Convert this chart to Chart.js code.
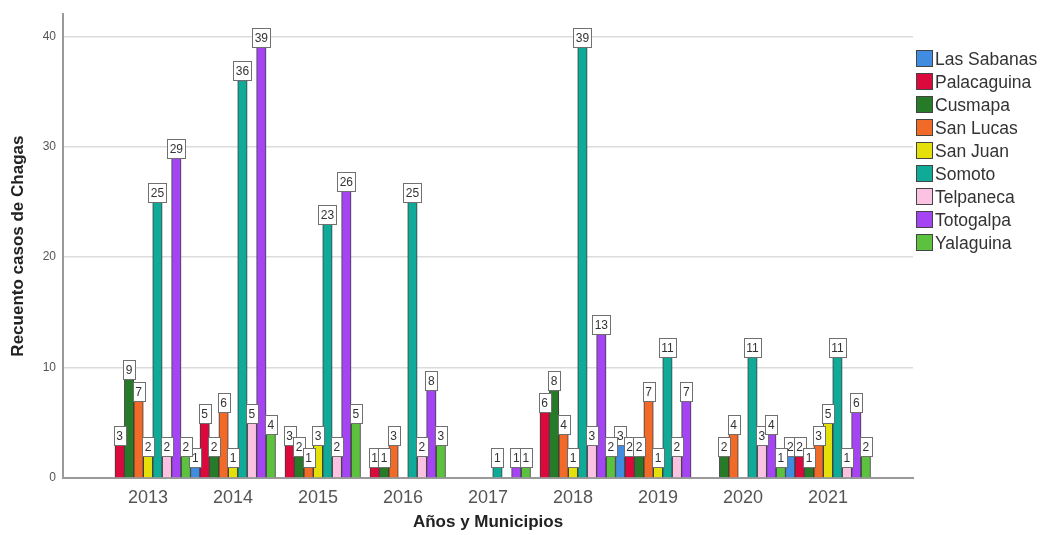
<!DOCTYPE html>
<html>
<head>
<meta charset="utf-8">
<script src="https://cdn.jsdelivr.net/npm/chart.js@4/dist/chart.umd.min.js"></script>
<style>
  html, body { margin: 0; padding: 0; background: #ffffff; }
  #wrap { width: 1045px; height: 535px; position: relative; }
</style>
</head>
<body>
<div id="wrap"><canvas id="chart" width="1045" height="535"></canvas></div>
<script>
// Años del estudio
const years = ['2013', '2014', '2015', '2016', '2017', '2018', '2019', '2020', '2021'];

// Casos de Chagas por municipio y año (null = sin casos registrados)
const lasSabanas  = [null, 1, null, null, null, null, 3, null, 2];
const palacaguina = [3, 5, 3, 1, null, 6, 2, null, 2];
const cusmapa     = [9, 2, 2, 1, null, 8, 2, 2, 1];
const sanLucas    = [7, 6, 1, 3, null, 4, 7, 4, 3];
const sanJuan     = [2, 1, 3, null, null, 1, 1, null, 5];
const somoto      = [25, 36, 23, 25, 1, 39, 11, 11, 11];
const telpaneca   = [2, 5, 2, 2, null, 3, 2, 3, 1];
const totogalpa   = [29, 39, 26, 8, 1, 13, 7, 4, 6];
const yalaguina   = [2, 4, 5, 3, 1, 2, null, 1, 2];

// Marcas del eje Y
const yTicks = [0, 10, 20, 30, 40];

const series = [
  { label: 'Las Sabanas', values: lasSabanas,  color: '#3f8ce0' },
  { label: 'Palacaguina', values: palacaguina, color: '#dc0a3c' },
  { label: 'Cusmapa',     values: cusmapa,     color: '#267a28' },
  { label: 'San Lucas',   values: sanLucas,    color: '#f26a28' },
  { label: 'San Juan',    values: sanJuan,     color: '#e6e00a' },
  { label: 'Somoto',      values: somoto,      color: '#10aa98' },
  { label: 'Telpaneca',   values: telpaneca,   color: '#fcc2e2' },
  { label: 'Totogalpa',   values: totogalpa,   color: '#a444f2' },
  { label: 'Yalaguina',   values: yalaguina,   color: '#5cc13e' }
];

// Un espacio vacío a cada lado del eje para separar los grupos de los bordes
const labels = [''].concat(years, ['']);

const datasets = series.map(s => ({
  label: s.label,
  data: [null].concat(s.values, [null]),
  backgroundColor: s.color,
  borderColor: '#3c3c3c',
  borderWidth: 1,
  borderSkipped: 'bottom',
  categoryPercentage: 1.0,
  barPercentage: 1.0
}));

// Etiquetas de valor en recuadros blancos sobre cada barra
const valueBoxes = {
  id: 'valueBoxes',
  afterDatasetsDraw(chart) {
    const ctx = chart.ctx;
    ctx.save();
    ctx.font = '12px "Liberation Sans", Arial, sans-serif';
    ctx.textAlign = 'center';
    ctx.textBaseline = 'middle';
    chart.data.datasets.forEach((ds, di) => {
      const meta = chart.getDatasetMeta(di);
      meta.data.forEach((el, i) => {
        const v = ds.data[i];
        if (v === null || v === undefined) return;
        const txt = String(v);
        const w = Math.round(ctx.measureText(txt).width + 5);
        const h = 19;
        const x = Math.round(el.x - w / 2) + 0.5;
        const y = Math.round(el.y - h) + 0.5;
        ctx.fillStyle = '#ffffff';
        ctx.fillRect(x, y, w, h);
        ctx.strokeStyle = '#707070';
        ctx.lineWidth = 1;
        ctx.strokeRect(x, y, w, h);
        ctx.fillStyle = '#333333';
        ctx.fillText(txt, el.x, y + h / 2 + 0.5);
      });
    });
    ctx.restore();
  }
};

// Leyenda vertical a la derecha del gráfico
const sideLegend = {
  id: 'sideLegend',
  afterDraw(chart) {
    const ctx = chart.ctx;
    ctx.save();
    ctx.font = '17.5px "Liberation Sans", Arial, sans-serif';
    ctx.textAlign = 'left';
    ctx.textBaseline = 'middle';
    chart.data.datasets.forEach((ds, i) => {
      const cy = 59 + i * 23;
      ctx.fillStyle = ds.backgroundColor;
      ctx.fillRect(916.5, cy - 8.5, 16, 16);
      ctx.strokeStyle = '#444444';
      ctx.lineWidth = 1;
      ctx.strokeRect(916.5, cy - 8.5, 16, 16);
      ctx.fillStyle = '#333333';
      ctx.fillText(ds.label, 935, cy + 1);
    });
    ctx.restore();
  }
};

new Chart(document.getElementById('chart'), {
  type: 'bar',
  data: { labels: labels, datasets: datasets },
  options: {
    responsive: false,
    animation: false,
    layout: { padding: { top: 13, right: 132, left: 0, bottom: 0 } },
    plugins: {
      legend: { display: false },
      tooltip: { enabled: false }
    },
    scales: {
      x: {
        type: 'category',
        offset: false,
        grid: { display: false, drawTicks: false },
        border: { display: true, color: '#9a9a9a', width: 2 },
        ticks: {
          autoSkip: false,
          maxRotation: 0,
          padding: 9,
          color: '#555555',
          font: { family: '"Liberation Sans", Arial, sans-serif', size: 18 }
        },
        title: {
          display: true,
          text: 'Años y Municipios',
          color: '#222222',
          font: { family: '"Liberation Sans", Arial, sans-serif', size: 17, weight: 'bold' },
          padding: { top: 0, bottom: 2 }
        },
        afterFit(scale) { scale.height = 57; }
      },
      y: {
        min: 0,
        max: 42,
        grid: { color: '#dcdcdc', lineWidth: 1.5, drawTicks: false },
        border: { display: true, color: '#9a9a9a', width: 2 },
        ticks: {
          stepSize: 10,
          padding: 7,
          color: '#555555',
          font: { family: '"Liberation Sans", Arial, sans-serif', size: 12 }
        },
        afterBuildTicks(scale) {
          scale.ticks = yTicks.map(v => ({ value: v }));
        },
        title: {
          display: true,
          text: 'Recuento casos de Chagas',
          color: '#222222',
          font: { family: '"Liberation Sans", Arial, sans-serif', size: 17, weight: 'bold' },
          padding: { top: 8, bottom: 0 }
        },
        afterFit(scale) { scale.width = 63; }
      }
    }
  },
  plugins: [valueBoxes, sideLegend]
});
</script>
</body>
</html>
